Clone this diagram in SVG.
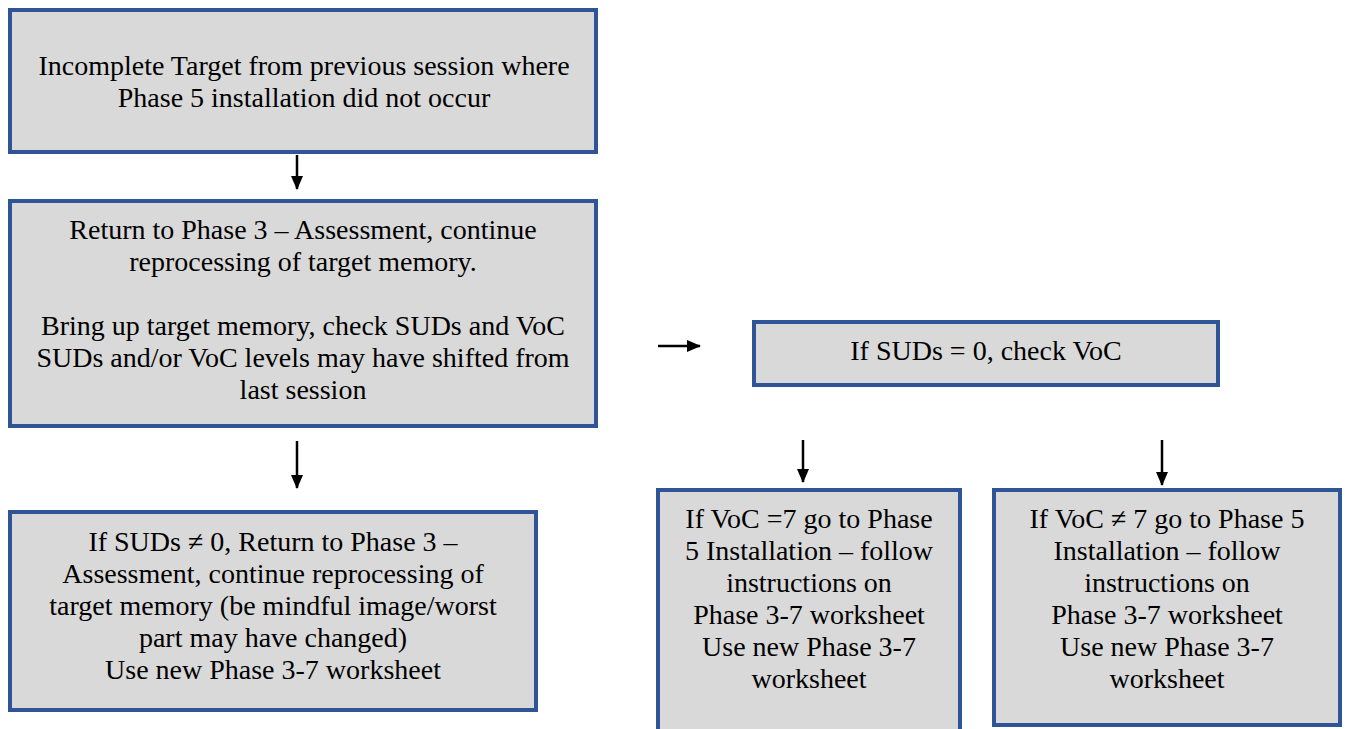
<svg xmlns="http://www.w3.org/2000/svg" width="1348" height="729" viewBox="0 0 1348 729">
<defs>
<style>
.box{fill:#d9d9d9;stroke:#2f5597;stroke-width:4}
.t{font-family:"Liberation Serif","Times New Roman",serif;font-size:28px;fill:#000;text-anchor:middle}
.c{stroke:#000;stroke-width:2.5;fill:none}
</style>
<marker id="ah" markerWidth="14" markerHeight="12" refX="13" refY="6" orient="auto" markerUnits="userSpaceOnUse" viewBox="0 0 14 12">
<path d="M0,0 L14,6 L0,12 z" fill="#000"/>
</marker>
</defs>
<rect width="1348" height="729" fill="#fff"/>
<g id="n1">
<rect class="box" x="10" y="10" width="586" height="142"/>
<text class="t" x="304" y="75">Incomplete Target from previous session where</text>
<text class="t" x="304" y="107">Phase 5 installation did not occur</text>
</g>
<g id="n2">
<rect class="box" x="10" y="201" width="586" height="225"/>
<text class="t" x="303" y="239">Return to Phase 3 – Assessment, continue</text>
<text class="t" x="303" y="271">reprocessing of target memory.</text>
<text class="t" x="303" y="335">Bring up target memory, check SUDs and VoC</text>
<text class="t" x="303" y="367">SUDs and/or VoC levels may have shifted from</text>
<text class="t" x="303" y="399">last session</text>
</g>
<g id="n3">
<rect class="box" x="754" y="322" width="464" height="63"/>
<text class="t" x="986" y="360">If SUDs = 0, check VoC</text>
</g>
<g id="n4">
<rect class="box" x="10" y="512" width="526" height="198"/>
<text class="t" x="273" y="551">If SUDs ≠ 0, Return to Phase 3 –</text>
<text class="t" x="273" y="583">Assessment, continue reprocessing of</text>
<text class="t" x="273" y="615">target memory (be mindful image/worst</text>
<text class="t" x="273" y="647">part may have changed)</text>
<text class="t" x="273" y="679">Use new Phase 3-7 worksheet</text>
</g>
<g id="n5">
<rect class="box" x="658" y="490" width="302" height="245"/>
<text class="t" x="809" y="528">If VoC =7 go to Phase</text>
<text class="t" x="809" y="560">5 Installation – follow</text>
<text class="t" x="809" y="592">instructions on</text>
<text class="t" x="809" y="624">Phase 3-7 worksheet</text>
<text class="t" x="809" y="656">Use new Phase 3-7</text>
<text class="t" x="809" y="688">worksheet</text>
</g>
<g id="n6">
<rect class="box" x="994" y="490" width="346" height="235"/>
<text class="t" x="1167" y="528">If VoC ≠ 7 go to Phase 5</text>
<text class="t" x="1167" y="560">Installation – follow</text>
<text class="t" x="1167" y="592">instructions on</text>
<text class="t" x="1167" y="624">Phase 3-7 worksheet</text>
<text class="t" x="1167" y="656">Use new Phase 3-7</text>
<text class="t" x="1167" y="688">worksheet</text>
</g>
<g id="connectors">
<line class="c" x1="297" y1="155" x2="297" y2="189" marker-end="url(#ah)"/>
<line class="c" x1="297" y1="441" x2="297" y2="488" marker-end="url(#ah)"/>
<line class="c" x1="658" y1="346" x2="700" y2="346" marker-end="url(#ah)"/>
<line class="c" x1="803" y1="440" x2="803" y2="482" marker-end="url(#ah)"/>
<line class="c" x1="1162" y1="440" x2="1162" y2="485" marker-end="url(#ah)"/>
</g>
</svg>
